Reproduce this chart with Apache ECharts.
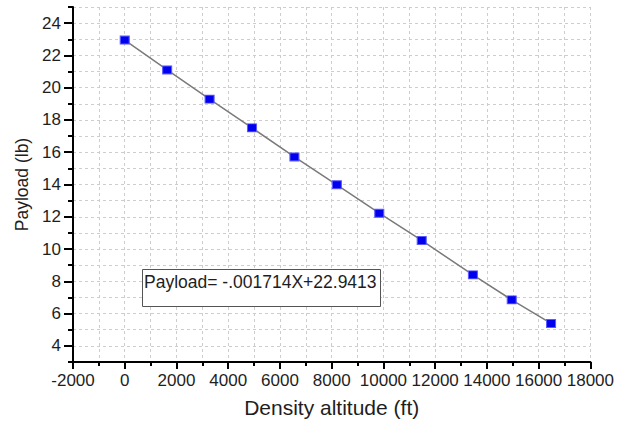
<!DOCTYPE html>
<html>
<head>
<meta charset="utf-8">
<script src="https://cdn.jsdelivr.net/npm/echarts@6/dist/echarts.min.js"></script>
<style>
  html, body { margin: 0; padding: 0; background: #fff; }
  #chart { width: 617px; height: 423px; }
</style>
</head>
<body>
<div id="chart"></div>
<script>
// Payload capacity against density altitude
const altitudeFt = [0, 1640, 3280, 4920, 6560, 8200, 9840, 11480, 13460, 14960, 16480];
const payloadLb = [22.95, 21.10, 19.29, 17.51, 15.71, 13.98, 12.22, 10.53, 8.40, 6.85, 5.39];

// Axis ranges and labelled tick values
const xRange = [-2000, 18000];
const yRange = [3, 25];
const xTickLabels = [-2000, 0, 2000, 4000, 6000, 8000, 10000, 12000, 14000, 16000, 18000];
const yTickLabels = [4, 6, 8, 10, 12, 14, 16, 18, 20, 22, 24];

const fitEquation = 'Payload= -.001714X+22.9413';

const FONT = 'Liberation Sans, Arial, sans-serif';
const gridLine = { show: true, lineStyle: { color: '#cdcdcd', type: [3, 3], width: 1 } };

const chart = echarts.init(document.getElementById('chart'), null, { renderer: 'svg' });

chart.setOption({
  animation: false,
  backgroundColor: '#ffffff',
  grid: { left: 73, right: 25, top: 7, bottom: 60, containLabel: false },
  title: {
    text: fitEquation,
    left: 142,
    top: 269,
    padding: [3, 4, 15, 2],
    borderColor: '#555555',
    borderWidth: 1,
    backgroundColor: '#ffffff',
    textStyle: { fontFamily: FONT, fontSize: 17.5, fontWeight: 'normal', color: '#1e1e1e', lineHeight: 20 }
  },
  xAxis: {
    type: 'value',
    min: xRange[0],
    max: xRange[1],
    interval: 2000,
    name: 'Density altitude (ft)',
    nameLocation: 'middle',
    nameGap: 35,
    nameTextStyle: { fontFamily: FONT, fontSize: 21, color: '#1e1e1e' },
    axisLine: { show: true, onZero: false, lineStyle: { color: '#000', width: 2 } },
    axisTick: { show: true, length: 7, lineStyle: { color: '#000', width: 2 } },
    minorTick: { show: true, splitNumber: 2, length: 4, lineStyle: { color: '#000', width: 2 } },
    axisLabel: {
      fontFamily: FONT, fontSize: 17, color: '#1e1e1e', margin: 10,
      customValues: xTickLabels,
      formatter: v => String(v)
    },
    splitLine: gridLine,
    minorSplitLine: gridLine
  },
  yAxis: [
    {
      type: 'value',
      min: yRange[0],
      max: yRange[1],
      interval: 1,
      name: 'Payload (lb)',
      nameLocation: 'middle',
      nameGap: 42,
      nameTextStyle: { fontFamily: FONT, fontSize: 17.5, color: '#1e1e1e' },
      axisLine: { show: true, onZero: false, lineStyle: { color: '#000', width: 2 } },
      axisTick: { show: true, length: 5, lineStyle: { color: '#000', width: 2 } },
      axisLabel: {
        fontFamily: FONT, fontSize: 17, color: '#1e1e1e', margin: 12,
        customValues: yTickLabels,
        formatter: v => String(v)
      },
      splitLine: gridLine
    },
    {
      // longer ticks at the labelled values
      type: 'value',
      position: 'left',
      min: yRange[0],
      max: yRange[1],
      axisLine: { show: false, onZero: false },
      axisTick: { show: true, length: 9, customValues: yTickLabels, lineStyle: { color: '#000', width: 2 } },
      axisLabel: { show: false },
      splitLine: { show: false }
    }
  ],
  series: [{
    type: 'line',
    yAxisIndex: 0,
    data: altitudeFt.map((x, i) => [x, payloadLb[i]]),
    symbol: 'rect',
    symbolSize: [9, 8],
    lineStyle: { color: '#7a7a7a', width: 1.5 },
    itemStyle: { color: '#0000ee', borderColor: '#5a5aff', borderWidth: 1 },
    z: 3
  }]
});
</script>
</body>
</html>
